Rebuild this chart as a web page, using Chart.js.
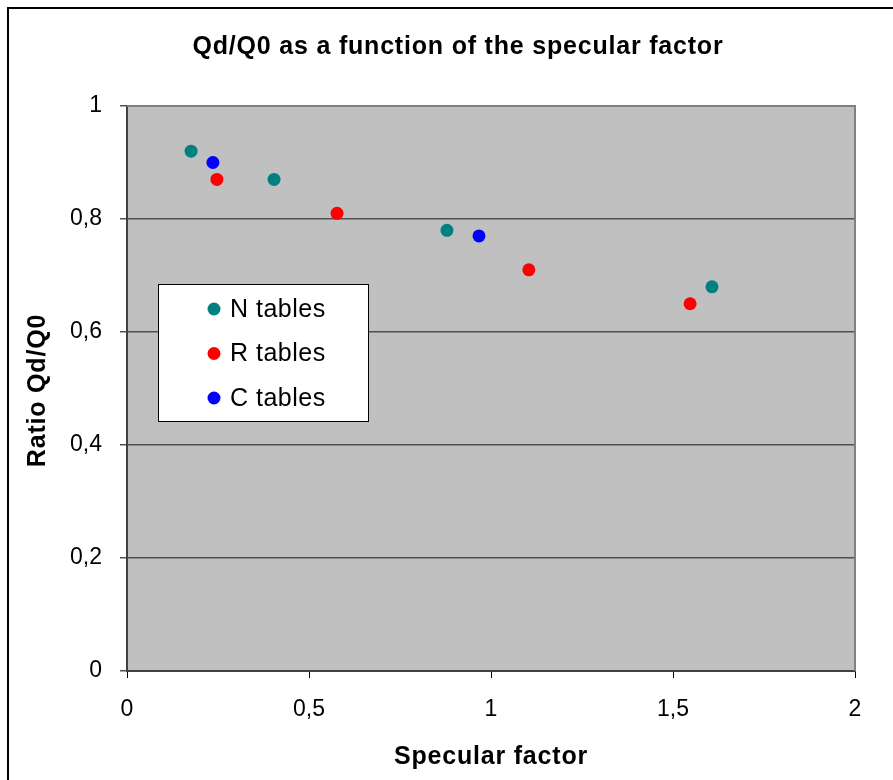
<!DOCTYPE html>
<html>
<head>
<meta charset="utf-8">
<script src="https://cdn.jsdelivr.net/npm/chart.js@4/dist/chart.umd.min.js"></script>
<style>
  html, body { margin: 0; padding: 0; background: #fff; }
  #wrap { width: 893px; height: 780px; }
</style>
</head>
<body>
<div id="wrap"><canvas id="c" width="893" height="780"></canvas></div>
<script>
// Specular factor (x) vs. ratio Qd/Q0 (y) per table family
const nTablesX = [0.176, 0.404, 0.879, 1.607];
const nTablesY = [0.92, 0.87, 0.78, 0.68];
const rTablesX = [0.247, 0.577, 1.104, 1.547];
const rTablesY = [0.87, 0.81, 0.71, 0.65];
const cTablesX = [0.236, 0.967];
const cTablesY = [0.90, 0.77];

const seriesNames = ['N tables', 'R tables', 'C tables'];
const seriesColors = ['#008080', '#ff0000', '#0000ff'];

const xTicks = [0, 0.5, 1, 1.5, 2];
const yTicks = [0, 0.2, 0.4, 0.6, 0.8, 1];

const titleText = 'Qd/Q0 as a function of the specular factor';
const xTitle = 'Specular factor';
const yTitle = 'Ratio Qd/Q0';

const FONT = '"Liberation Sans", Arial, Helvetica, sans-serif';

function toPoints(xs, ys) {
  return xs.map((x, i) => ({ x: x, y: ys[i] }));
}

// Decimal comma, no trailing zeros
function commaLabel(v) {
  return String(Math.round(v * 100) / 100).replace('.', ',');
}

// Outer frame, grey plot background and plot border
const framePlugin = {
  id: 'frame',
  beforeDraw(chart) {
    const ctx = chart.ctx;
    const a = chart.chartArea;
    ctx.save();
    ctx.fillStyle = '#fff';
    ctx.fillRect(0, 0, chart.width, chart.height);
    ctx.strokeStyle = '#000';
    ctx.lineWidth = 2;
    ctx.strokeRect(8, 8, chart.width + 20, chart.height + 20);
    ctx.fillStyle = '#c0c0c0';
    ctx.fillRect(a.left, a.top, a.right - a.left, a.bottom - a.top);
    ctx.restore();
  },
  afterDraw(chart) {
    const ctx = chart.ctx;
    const a = chart.chartArea;
    ctx.save();
    ctx.strokeStyle = '#808080';
    ctx.lineWidth = 2;
    ctx.beginPath();
    ctx.moveTo(a.left, a.top);
    ctx.lineTo(a.right, a.top);
    ctx.lineTo(a.right, a.bottom);
    ctx.stroke();
    ctx.restore();
  }
};

// Chart title and the two axis titles
const titlesPlugin = {
  id: 'titles',
  afterDraw(chart, args, opts) {
    const ctx = chart.ctx;
    const a = chart.chartArea;
    ctx.save();
    ctx.fillStyle = '#000';
    ctx.textAlign = 'center';
    ctx.textBaseline = 'middle';
    ctx.font = 'bold ' + opts.size + 'px ' + FONT;
    if ('letterSpacing' in ctx) ctx.letterSpacing = opts.spacing + 'px';
    ctx.fillText(titleText, opts.titleX, opts.titleY);
    ctx.fillText(xTitle, (a.left + a.right) / 2, opts.xTitleY);
    ctx.translate(opts.yTitleX, (a.top + a.bottom) / 2 + 2);
    ctx.rotate(-Math.PI / 2);
    ctx.fillText(yTitle, 0, 0);
    ctx.restore();
  }
};

// Boxed legend placed inside the plot area
const boxLegendPlugin = {
  id: 'boxLegend',
  afterDraw(chart, args, opts) {
    const ctx = chart.ctx;
    ctx.save();
    ctx.fillStyle = '#fff';
    ctx.fillRect(opts.x, opts.y, opts.w, opts.h);
    ctx.strokeStyle = '#000';
    ctx.lineWidth = 1;
    ctx.strokeRect(opts.x + 0.5, opts.y + 0.5, opts.w, opts.h);
    ctx.font = opts.fontSize + 'px ' + FONT;
    if ('letterSpacing' in ctx) ctx.letterSpacing = opts.spacing + 'px';
    ctx.textBaseline = 'middle';
    ctx.textAlign = 'left';
    chart.data.datasets.forEach((ds, i) => {
      const cy = opts.firstRow + i * opts.rowGap;
      ctx.fillStyle = ds.backgroundColor;
      ctx.beginPath();
      ctx.arc(opts.markerX, cy, 6.5, 0, Math.PI * 2);
      ctx.fill();
      ctx.fillStyle = '#000';
      ctx.fillText(ds.label, opts.textX, cy + 1);
    });
    ctx.restore();
  }
};

const datasets = [
  toPoints(nTablesX, nTablesY),
  toPoints(rTablesX, rTablesY),
  toPoints(cTablesX, cTablesY)
].map((pts, i) => ({
  label: seriesNames[i],
  data: pts,
  backgroundColor: seriesColors[i],
  borderColor: seriesColors[i],
  borderWidth: 0,
  pointRadius: 6.5,
  pointHoverRadius: 6.5
}));

new Chart(document.getElementById('c'), {
  type: 'scatter',
  data: { datasets: datasets },
  plugins: [framePlugin, titlesPlugin, boxLegendPlugin],
  options: {
    responsive: false,
    animation: false,
    layout: { padding: { left: 0, right: 38, top: 106, bottom: 0 } },
    plugins: {
      legend: { display: false },
      tooltip: { enabled: false },
      title: { display: false },
      titles: {
        size: 25, spacing: 0.8,
        titleX: 458, titleY: 47,
        xTitleY: 757, yTitleX: 38
      },
      boxLegend: {
        x: 158, y: 284, w: 210, h: 137,
        markerX: 214, textX: 230,
        firstRow: 309, rowGap: 44.5,
        fontSize: 25, spacing: 0.5
      }
    },
    scales: {
      x: {
        type: 'linear',
        min: 0, max: 2,
        afterBuildTicks(scale) { scale.ticks = xTicks.map(v => ({ value: v })); },
        afterFit(scale) { scale.height = 109; },
        ticks: {
          color: '#000',
          padding: 18,
          maxRotation: 0,
          font: { family: FONT, size: 23 },
          callback: (v) => commaLabel(v)
        },
        grid: {
          drawOnChartArea: false,
          drawTicks: true,
          tickLength: 7,
          color: '#000',
          lineWidth: 1
        },
        border: { color: '#404040', width: 2 }
      },
      y: {
        type: 'linear',
        min: 0, max: 1,
        afterBuildTicks(scale) { scale.ticks = yTicks.map(v => ({ value: v })); },
        afterFit(scale) { scale.width = 127; },
        ticks: {
          color: '#000',
          padding: 18,
          font: { family: FONT, size: 23 },
          callback: (v) => commaLabel(v)
        },
        grid: {
          drawOnChartArea: true,
          drawTicks: true,
          tickLength: 7,
          color: '#505050',
          lineWidth: 1.5
        },
        border: { color: '#404040', width: 2 }
      }
    }
  }
});
</script>
</body>
</html>
